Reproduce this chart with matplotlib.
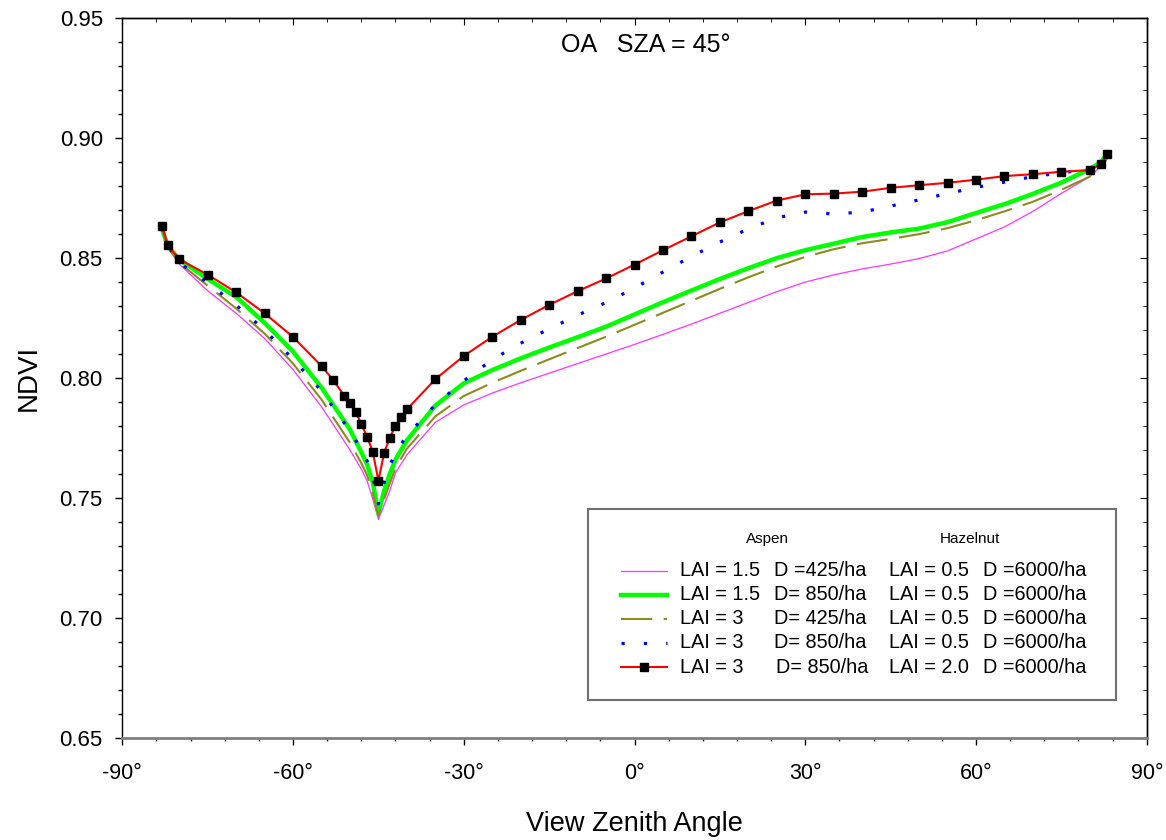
import matplotlib
matplotlib.use("Agg")
import matplotlib.pyplot as plt
from matplotlib.lines import Line2D
from matplotlib.patches import Rectangle
from matplotlib.ticker import MultipleLocator

plt.rcParams.update({
    "font.family": ["Liberation Sans", "DejaVu Sans"],
    "axes.linewidth": 1.0,
})

# ---------------------------------------------------------------------------
# data (NDVI vs view zenith angle, principal plane)
# ---------------------------------------------------------------------------
vza = [-83, -82, -80, -75, -70, -65, -60, -55, -50, -48, -47, -46, -45, -44,
       -43, -42, -40, -35, -30, -25, -20, -15, -10, -5, 0, 5, 10, 15, 20, 25,
       30, 35, 40, 45, 50, 55, 60, 65, 70, 75, 80, 82, 83]

ndvi_a15_d425 = [0.8615, 0.8545, 0.8475, 0.8364, 0.8270, 0.8165, 0.8035, 0.7880,
                 0.7700, 0.7620, 0.7572, 0.7496, 0.7410, 0.7470, 0.7530, 0.7605,
                 0.7680, 0.7815, 0.7888, 0.7937, 0.7980, 0.8020, 0.8060, 0.8100,
                 0.8140, 0.8182, 0.8225, 0.8270, 0.8315, 0.8360, 0.8400, 0.8430,
                 0.8455, 0.8475, 0.8498, 0.8530, 0.8580, 0.8630, 0.8695, 0.8770,
                 0.8840, 0.8885, 0.8920]
ndvi_a15_d850 = [0.8620, 0.8550, 0.8495, 0.8413, 0.8338, 0.8230, 0.8110, 0.7960,
                 0.7785, 0.7690, 0.7640, 0.7565, 0.7436, 0.7530, 0.7600, 0.7660,
                 0.7740, 0.7885, 0.7978, 0.8033, 0.8082, 0.8127, 0.8170, 0.8214,
                 0.8265, 0.8316, 0.8365, 0.8413, 0.8458, 0.8500, 0.8533, 0.8560,
                 0.8588, 0.8607, 0.8623, 0.8650, 0.8688, 0.8725, 0.8768, 0.8815,
                 0.8872, 0.8901, 0.8935]
ndvi_a3_d425 = [0.8618, 0.8545, 0.8480, 0.8385, 0.8290, 0.8185, 0.8060, 0.7910,
                0.7730, 0.7645, 0.7595, 0.7520, 0.7425, 0.7495, 0.7560, 0.7625,
                0.7705, 0.7840, 0.7925, 0.7980, 0.8030, 0.8078, 0.8125, 0.8172,
                0.8222, 0.8272, 0.8322, 0.8372, 0.8420, 0.8465, 0.8505, 0.8537,
                0.8562, 0.8580, 0.8600, 0.8625, 0.8658, 0.8695, 0.8735, 0.8785,
                0.8840, 0.8880, 0.8915]
ndvi_a3_d850 = [0.8625, 0.8555, 0.8480, 0.8397, 0.8304, 0.8200, 0.8078, 0.7946,
                0.7780, 0.7700, 0.7655, 0.7591, 0.7475, 0.7565, 0.7635, 0.7688,
                0.7760, 0.7888, 0.7988, 0.8077, 0.8145, 0.8205, 0.8262, 0.8315,
                0.8375, 0.8442, 0.8507, 0.8567, 0.8622, 0.8668, 0.8692, 0.8684,
                0.8692, 0.8717, 0.8743, 0.8769, 0.8795, 0.8817, 0.8840, 0.8856,
                0.8870, 0.8900, 0.8930]

# hazelnut LAI 2.0 case has its own (denser) sampling near the hot spot
vza_h2 = [-83, -82, -80, -75, -70, -65, -60, -55, -53, -51, -50, -49, -48, -47,
          -46, -45, -44, -43, -42, -41, -40, -35, -30, -25, -20, -15, -10, -5,
          0, 5, 10, 15, 20, 25, 30, 35, 40, 45, 50, 55, 60, 65, 70, 75, 80, 82, 83]
ndvi_a3_d850_h2 = [0.8635, 0.8553, 0.8495, 0.8431, 0.8357, 0.8270, 0.8171, 0.8050,
                   0.7993, 0.7926, 0.7894, 0.7858, 0.7809, 0.7755, 0.7693, 0.7572,
                   0.7688, 0.7751, 0.7801, 0.7837, 0.7869, 0.7995, 0.8092, 0.8172,
                   0.8242, 0.8305, 0.8362, 0.8415, 0.8473, 0.8533, 0.8591, 0.8649,
                   0.8696, 0.8740, 0.8766, 0.8769, 0.8777, 0.8793, 0.8804, 0.8814,
                   0.8827, 0.8842, 0.8850, 0.8860, 0.8867, 0.8893, 0.8934]

aspen_lai = ["1.5", "1.5", "3", "3", "3"]
aspen_d = ["D =425/ha", "D= 850/ha", "D= 425/ha", "D= 850/ha", "D= 850/ha"]
hazel_lai = ["0.5", "0.5", "0.5", "0.5", "2.0"]
hazel_d = ["D =6000/ha"] * 5

x_ticks = [-90, -60, -30, 0, 30, 60, 90]
x_ticklabels = ["-90°", "-60°", "-30°", "0°", "30°", "60°", "90°"]
y_ticks = [0.65, 0.70, 0.75, 0.80, 0.85, 0.90, 0.95]

# line styles, same order as the legend rows
styles = [
    dict(color="#ff33ff", lw=0.9, ls="-"),
    dict(color="#00ff00", lw=3.2, ls="-"),
    dict(color="#8b8b1e", lw=1.5, ls=(0, (15, 5.5))),
    dict(color="#0000ff", lw=2.3, ls=(0, (1, 6.0)), dash_capstyle="butt"),
    dict(color="#ff0000", lw=1.5, ls="-", marker="s", ms=5.5,
         mfc="black", mec="black"),
]
series = [(vza, ndvi_a15_d425), (vza, ndvi_a15_d850), (vza, ndvi_a3_d425),
          (vza, ndvi_a3_d850), (vza_h2, ndvi_a3_d850_h2)]

# ---------------------------------------------------------------------------
fig = plt.figure(figsize=(11.66, 8.40), dpi=100)
ax = fig.add_axes([0.1049, 0.1218, 0.8786, 0.8564])

for i in [0, 2, 1, 3, 4]:
    xs, ys = series[i]
    ax.plot(xs, ys, zorder=3 + i, **styles[i])

ax.set_xlim(-90, 90)
ax.set_ylim(0.65, 0.95)
ax.set_xticks(x_ticks)
ax.set_xticklabels(x_ticklabels)
ax.set_yticks(y_ticks)
ax.set_yticklabels([f"{v:.2f}" for v in y_ticks])
ax.xaxis.set_minor_locator(MultipleLocator(6))
ax.yaxis.set_minor_locator(MultipleLocator(0.01))
ax.tick_params(axis="x", which="major", direction="out", length=5, width=1,
               labelsize=15.5, pad=13)
ax.tick_params(axis="x", which="minor", direction="out", length=2.5, width=1)
ax.tick_params(axis="y", which="major", direction="out", length=5, width=1,
               labelsize=16, pad=9)
ax.tick_params(axis="y", which="minor", direction="out", length=3, width=1)
ax.spines["bottom"].set_color("#808080")
ax.spines["bottom"].set_linewidth(2)

# mirrored inward ticks on top and right
top = ax.secondary_xaxis("top")
top.set_xticks(x_ticks)
top.xaxis.set_minor_locator(MultipleLocator(6))
top.tick_params(which="major", direction="in", length=5, labeltop=False)
top.tick_params(which="minor", direction="in", length=3)
right = ax.secondary_yaxis("right")
right.set_yticks(y_ticks)
right.yaxis.set_minor_locator(MultipleLocator(0.01))
right.tick_params(which="major", direction="in", length=5, labelright=False)
right.tick_params(which="minor", direction="in", length=3)

ax.set_xlabel("View Zenith Angle", fontsize=19.5, labelpad=20)
ax.set_ylabel("NDVI", fontsize=20, labelpad=13)
ax.text(2, 0.936, "OA   SZA = 45°", fontsize=18, ha="center", va="baseline")

# ---------------------------------------------------------------------------
# custom two-column legend box
# ---------------------------------------------------------------------------
tr = ax.transAxes
ax.add_patch(Rectangle((0.4543, 0.0524), 0.5154, 0.2655, transform=tr,
                       facecolor="white", edgecolor="#707070", lw=1.5, zorder=10))
ax.text(0.6299, 0.2762, "Aspen", transform=tr, fontsize=11, ha="center",
        va="center", zorder=11)
ax.text(0.8275, 0.2762, "Hazelnut", transform=tr, fontsize=11, ha="center",
        va="center", zorder=11)
row_y0, row_dy = 0.2324, -0.03357
for k in range(5):
    y = row_y0 + k * row_dy
    st = {kk: vv for kk, vv in styles[k].items()
          if kk not in ("marker", "ms", "mfc", "mec")}
    ax.add_line(Line2D([0.4866, 0.5316], [y, y], transform=tr, zorder=11, **st))
    if "marker" in styles[k]:
        ax.add_line(Line2D([0.5091], [y], transform=tr, marker="s", ms=5.5,
                           mfc="black", mec="black", ls="none", zorder=12))
    ax.text(0.5443, y, f"LAI = {aspen_lai[k]}", transform=tr, fontsize=14.3,
            va="center", zorder=11)
    ax.text(0.6366 if k < 4 else 0.6381, y, aspen_d[k], transform=tr,
            fontsize=14.3, va="center", zorder=11)
    ax.text(0.7482, y, f"LAI = {hazel_lai[k]}", transform=tr, fontsize=14.3,
            va="center", zorder=11)
    ax.text(0.8398, y, hazel_d[k], transform=tr, fontsize=14.3, va="center",
            zorder=11)

fig.savefig("out.png", dpi=100, facecolor="white")
